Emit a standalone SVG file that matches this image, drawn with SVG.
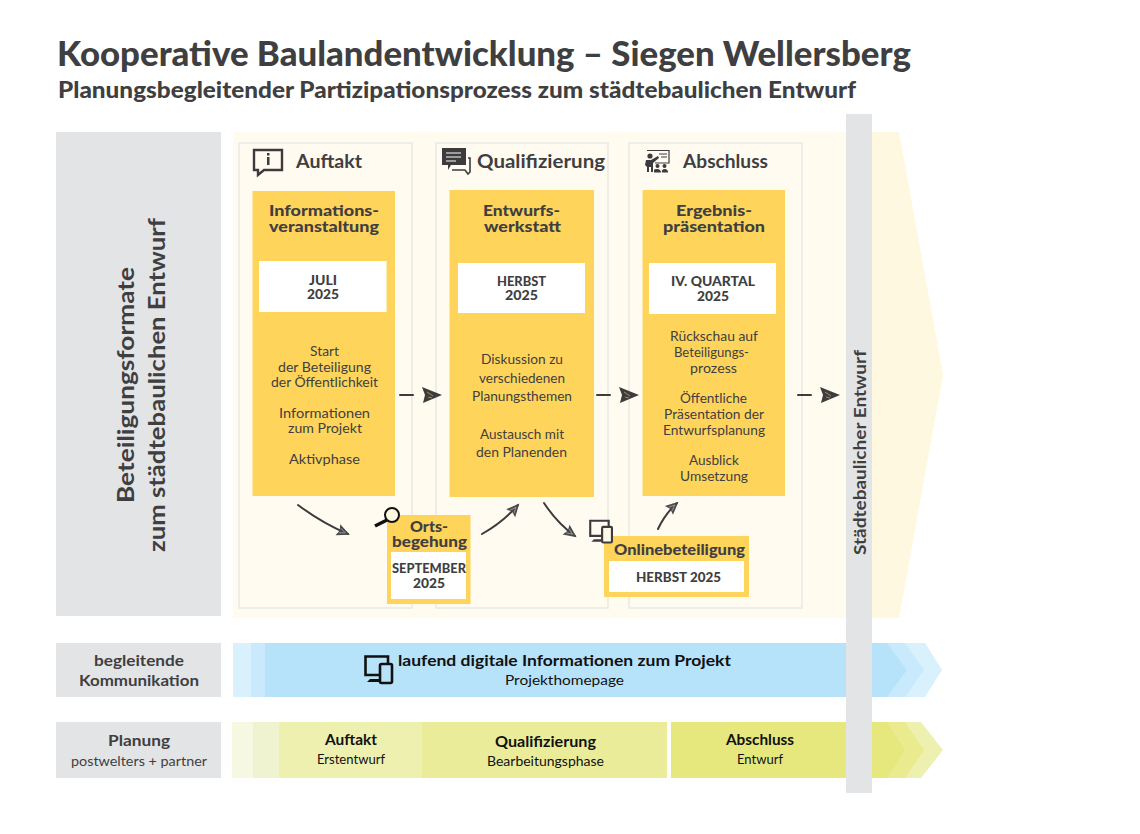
<svg xmlns="http://www.w3.org/2000/svg" width="1140" height="834" viewBox="0 0 1140 834">
<style>
text{font-family:"Lato","Open Sans","Liberation Sans",sans-serif;fill:#3f3f41}
.b{font-weight:700}
.h1{font-size:35px;font-weight:900}.h2{font-size:23px;font-weight:900}
.head{font-size:19px;font-weight:700}.card{font-size:15px;font-weight:900}
.date{font-size:13.5px;font-weight:900}.body{font-size:14px}
text.k{fill:#111}
.gray{fill:#e3e4e6}.panel{fill:#fffbf0;stroke:#e9e9e6;stroke-width:1.5}.yel{fill:#ffd45a}.wh{fill:#fff}
.ln{fill:none;stroke:#3c3c3e;stroke-width:2;stroke-linecap:round}
.ic{fill:none;stroke:#3c3c3e;stroke-width:2.4}.icf{fill:#3c3c3e}
</style>
<defs>
<marker id="head" markerUnits="userSpaceOnUse" markerWidth="16" markerHeight="16" refX="12" refY="7" orient="auto">
<path d="M1 1L14 7L1 13L3 7Z" fill="#4a4a4c"/><path d="M3 4.500L9 7M3 9.500L9 7" stroke="#a0a0a0" stroke-width=".8" fill="none"/>
</marker>
<g id="mini"><path d="M0 0H13" class="ln" stroke-width="2.500"/><path d="M22 -8L42 0L23 8L25 0Z" fill="#3c3c3e"/><path d="M27 -3L33 1M28 2L32 3" stroke="#ffd45a" stroke-width="1" fill="none" opacity=".55"/></g>
<g id="dev"><path d="M1.500 1.500H24V20H1.500Z" fill="none" stroke="currentColor" stroke-width="2.600"/><path d="M6 24H16V27H3Z" fill="currentColor"/><rect x="16" y="9" width="12" height="19" rx="1.500" stroke="currentColor" stroke-width="2.600"/></g>
</defs>

<text class="h1" x="57" y="66" textLength="854" lengthAdjust="spacingAndGlyphs">Kooperative Baulandentwicklung – Siegen Wellersberg</text>
<text class="h2" x="58" y="98" textLength="798" lengthAdjust="spacingAndGlyphs">Planungsbegleitender Partizipationsprozess zum städtebaulichen Entwurf</text>

<g id="background">
<rect class="gray" x="56" y="132" width="165" height="484"/>
<path d="M233 132H899L943 375L899 618H233Z" fill="#fffbee"/>
<path d="M872 132H899L943 375L899 618H872Z" fill="#fff8e0"/>
<text class="b" font-size="23" transform="translate(134 503) rotate(-90)" textLength="236" lengthAdjust="spacingAndGlyphs">Beteiligungsformate</text>
<text class="b" font-size="23" transform="translate(165 552) rotate(-90)" textLength="334" lengthAdjust="spacingAndGlyphs">zum städtebaulichen Entwurf</text>
</g>

<g id="panel-auftakt">
<rect class="panel" x="239" y="143" width="173" height="465"/>
<path class="ic" d="M254 150H282V170H264L258 175V170H254Z"/><rect class="icf" x="267" y="157" width="2.500" height="8"/><rect class="icf" x="267" y="153" width="2.500" height="2.500"/>
<text class="head" x="296" y="168" textLength="66" lengthAdjust="spacingAndGlyphs">Auftakt</text>
</g>
<g id="panel-qualifizierung">
<rect class="panel" x="436" y="143" width="172" height="465"/>
<path class="icf" d="M442 148H466V165H451L448 170V165H442Z"/><path d="M446 153H461M446 157H461M446 161H456" stroke="#fffbf0" stroke-width="1.200"/>
<path d="M468 158H470V172L468 174L465 170H452" fill="none" stroke="#3c3c3e" stroke-width="1.600"/>
<text class="head" x="477" y="168" textLength="128" lengthAdjust="spacingAndGlyphs">Qualifizierung</text>
</g>
<g id="panel-abschluss">
<rect class="panel" x="629" y="143" width="173" height="465"/>
<path d="M647 150.500H669V163H655" fill="none" stroke="#3c3c3e" stroke-width="1.200"/><path d="M659 154H667M661 157H667" stroke="#3c3c3e" stroke-width="1"/>
<circle class="icf" cx="650" cy="156" r="2.600"/><path class="icf" d="M646 160H651L658 156L659 158L653 163V172H651V167H649V172H647V167L645 165Z"/>
<circle class="icf" cx="657.500" cy="166" r="2"/><circle class="icf" cx="664.500" cy="166" r="2"/><path class="icf" d="M654 172.500V170Q654 169 657 169Q661 169 661 172.500ZM662 172.500Q661 169 665 169Q668 169 668 172.500Z"/>
<text class="head" x="683" y="168" textLength="85" lengthAdjust="spacingAndGlyphs">Abschluss</text>
</g>

<g id="card-informationsveranstaltung">
<rect class="yel" x="252.500" y="191" width="142.500" height="305"/>
<rect class="wh" x="259" y="261" width="127.500" height="51"/>
<text class="card" x="269" y="216" textLength="110" lengthAdjust="spacingAndGlyphs">Informations-</text>
<text class="card" x="269" y="231.500" textLength="110" lengthAdjust="spacingAndGlyphs">veranstaltung</text>
<text class="date" x="309" y="285" textLength="28" lengthAdjust="spacingAndGlyphs">JULI</text>
<text class="date" x="307" y="299" textLength="32" lengthAdjust="spacingAndGlyphs">2025</text>
<text class="body" x="310" y="356" textLength="29" lengthAdjust="spacingAndGlyphs">Start</text>
<text class="body" x="278" y="371.500" textLength="93" lengthAdjust="spacingAndGlyphs">der Beteiligung</text>
<text class="body" x="271" y="387" textLength="107" lengthAdjust="spacingAndGlyphs">der Öffentlichkeit</text>
<text class="body" x="279" y="418" textLength="91" lengthAdjust="spacingAndGlyphs">Informationen</text>
<text class="body" x="288" y="433" textLength="74" lengthAdjust="spacingAndGlyphs">zum Projekt</text>
<text class="body" x="289" y="464" textLength="71" lengthAdjust="spacingAndGlyphs">Aktivphase</text>
</g>
<g id="card-entwurfswerkstatt">
<rect class="yel" x="449.500" y="190" width="144.500" height="307"/>
<rect class="wh" x="458" y="263" width="127" height="50"/>
<text class="card" x="483" y="216" textLength="77" lengthAdjust="spacingAndGlyphs">Entwurfs-</text>
<text class="card" x="484" y="231.500" textLength="77" lengthAdjust="spacingAndGlyphs">werkstatt</text>
<text class="date" x="497" y="286" textLength="49" lengthAdjust="spacingAndGlyphs">HERBST</text>
<text class="date" x="505" y="300" textLength="33" lengthAdjust="spacingAndGlyphs">2025</text>
<text class="body" x="481" y="364" textLength="82" lengthAdjust="spacingAndGlyphs">Diskussion zu</text>
<text class="body" x="479" y="383" textLength="86" lengthAdjust="spacingAndGlyphs">verschiedenen</text>
<text class="body" x="472" y="401" textLength="100" lengthAdjust="spacingAndGlyphs">Planungsthemen</text>
<text class="body" x="480" y="439" textLength="84" lengthAdjust="spacingAndGlyphs">Austausch mit</text>
<text class="body" x="476" y="457" textLength="91" lengthAdjust="spacingAndGlyphs">den Planenden</text>
</g>
<g id="card-ergebnispraesentation">
<rect class="yel" x="642.500" y="190" width="142.500" height="306"/>
<rect class="wh" x="649" y="263" width="127" height="51"/>
<text class="card" x="676" y="216" textLength="76" lengthAdjust="spacingAndGlyphs">Ergebnis-</text>
<text class="card" x="663" y="231.500" textLength="102" lengthAdjust="spacingAndGlyphs">präsentation</text>
<text class="date" x="671" y="286" textLength="84" lengthAdjust="spacingAndGlyphs">IV. QUARTAL</text>
<text class="date" x="697" y="301" textLength="32" lengthAdjust="spacingAndGlyphs">2025</text>
<text class="body" x="670" y="341" textLength="88" lengthAdjust="spacingAndGlyphs">Rückschau auf</text>
<text class="body" x="674" y="357" textLength="75" lengthAdjust="spacingAndGlyphs">Beteiligungs-</text>
<text class="body" x="690" y="373" textLength="47" lengthAdjust="spacingAndGlyphs">prozess</text>
<text class="body" x="680" y="403" textLength="67" lengthAdjust="spacingAndGlyphs">Öffentliche</text>
<text class="body" x="664" y="419" textLength="100" lengthAdjust="spacingAndGlyphs">Präsentation der</text>
<text class="body" x="663" y="435" textLength="102" lengthAdjust="spacingAndGlyphs">Entwurfsplanung</text>
<text class="body" x="689" y="465" textLength="50" lengthAdjust="spacingAndGlyphs">Ausblick</text>
<text class="body" x="680" y="481" textLength="68" lengthAdjust="spacingAndGlyphs">Umsetzung</text>
</g>

<g id="card-ortsbegehung">
<rect class="yel" x="387" y="515" width="83.500" height="89"/>
<rect class="wh" x="391" y="552" width="75" height="47"/>
<circle cx="392" cy="515" r="7" fill="#fff8e0" stroke="#111" stroke-width="2"/>
<path d="M387 520L375 526" stroke="#111" stroke-width="3.600"/>
<text class="card" x="410" y="531.500" textLength="38" lengthAdjust="spacingAndGlyphs">Orts-</text>
<text class="card" x="392" y="546.500" textLength="75" lengthAdjust="spacingAndGlyphs">begehung</text>
<text class="date" x="392" y="573" textLength="74" lengthAdjust="spacingAndGlyphs">SEPTEMBER</text>
<text class="date" x="413" y="588" textLength="32" lengthAdjust="spacingAndGlyphs">2025</text>
</g>
<g id="card-onlinebeteiligung">
<rect class="yel" x="604" y="536" width="145" height="61"/>
<rect class="wh" x="609" y="561" width="135" height="31"/>
<use href="#dev" color="#3c3c3e" fill="#fff9e8" transform="translate(589 519.500) scale(.82)"/>
<text class="card" x="614" y="555" textLength="131" lengthAdjust="spacingAndGlyphs">Onlinebeteiligung</text>
<text class="date" x="636" y="582" textLength="85" lengthAdjust="spacingAndGlyphs">HERBST 2025</text>
</g>

<g id="connectors">
<path class="ln" d="M298 505Q322 523 348 534" marker-end="url(#head)"/>
<path class="ln" d="M482 534Q503 522 518 505" marker-end="url(#head)"/>
<path class="ln" d="M544 503Q557 523 575 536" marker-end="url(#head)"/>
<path class="ln" d="M658 529Q665 514 677 503" marker-end="url(#head)"/>
<use href="#mini" x="400" y="395"/>
<use href="#mini" x="597" y="395"/>
<use href="#mini" x="798" y="395"/>
</g>

<g id="band-kommunikation">
<rect class="gray" x="56" y="643" width="165" height="54"/>
<text class="b" font-size="15" x="94" y="666" textLength="90" lengthAdjust="spacingAndGlyphs">begleitende</text>
<text class="b" font-size="15" x="79" y="686" textLength="120" lengthAdjust="spacingAndGlyphs">Kommunikation</text>
<path d="M233 643H925L942 670L925 697H233Z" fill="#d9f0fd"/>
<path d="M251 643H905L924 670L905 697H251Z" fill="#c8eafc"/>
<path d="M265 643H887L907 670L887 697H265Z" fill="#b7e3fa"/>
<use href="#dev" color="#111" fill="#b7e3fa" transform="translate(364 655)"/>
<text class="k b" font-size="16" x="398" y="666" textLength="333" lengthAdjust="spacingAndGlyphs">laufend digitale Informationen zum Projekt</text>
<text class="k" font-size="14" x="505" y="685" textLength="119" lengthAdjust="spacingAndGlyphs">Projekthomepage</text>
</g>

<g id="band-planung">
<rect class="gray" x="56" y="722" width="165" height="56"/>
<text class="b" font-size="15" x="108" y="746" textLength="62" lengthAdjust="spacingAndGlyphs">Planung</text>
<text font-size="14" x="71" y="766" textLength="136" lengthAdjust="spacingAndGlyphs">postwelters + partner</text>
<rect x="232" y="722" width="21" height="56" fill="#f6f8e1"/>
<rect x="253" y="722" width="26" height="56" fill="#f0f3cf"/>
<rect x="279" y="722" width="143" height="56" fill="#eef0b0"/>
<rect x="422" y="722" width="245" height="56" fill="#eaec9a"/>
<path d="M671 722H921L943 750L921 778H671Z" fill="#eef0b0"/>
<path d="M671 722H905L924 750L905 778H671Z" fill="#e9eb8e"/>
<path d="M671 722H887L905 750L887 778H671Z" fill="#e6e87e"/>
<text class="k b" font-size="15" x="325" y="745" textLength="52" lengthAdjust="spacingAndGlyphs">Auftakt</text>
<text class="k" font-size="14" x="317" y="764" textLength="68" lengthAdjust="spacingAndGlyphs">Erstentwurf</text>
<text class="k b" font-size="15" x="495" y="747" textLength="101" lengthAdjust="spacingAndGlyphs">Qualifizierung</text>
<text class="k" font-size="14" x="487" y="766" textLength="117" lengthAdjust="spacingAndGlyphs">Bearbeitungsphase</text>
<text class="k b" font-size="15" x="726" y="745" textLength="68" lengthAdjust="spacingAndGlyphs">Abschluss</text>
<text class="k" font-size="14" x="737" y="764" textLength="46" lengthAdjust="spacingAndGlyphs">Entwurf</text>
</g>

<g id="bar-entwurf">
<rect class="gray" x="846" y="114" width="26" height="679"/>
<text class="b" font-size="17" transform="translate(866 555) rotate(-90)" textLength="205" lengthAdjust="spacingAndGlyphs">Städtebaulicher Entwurf</text>
</g>
</svg>
